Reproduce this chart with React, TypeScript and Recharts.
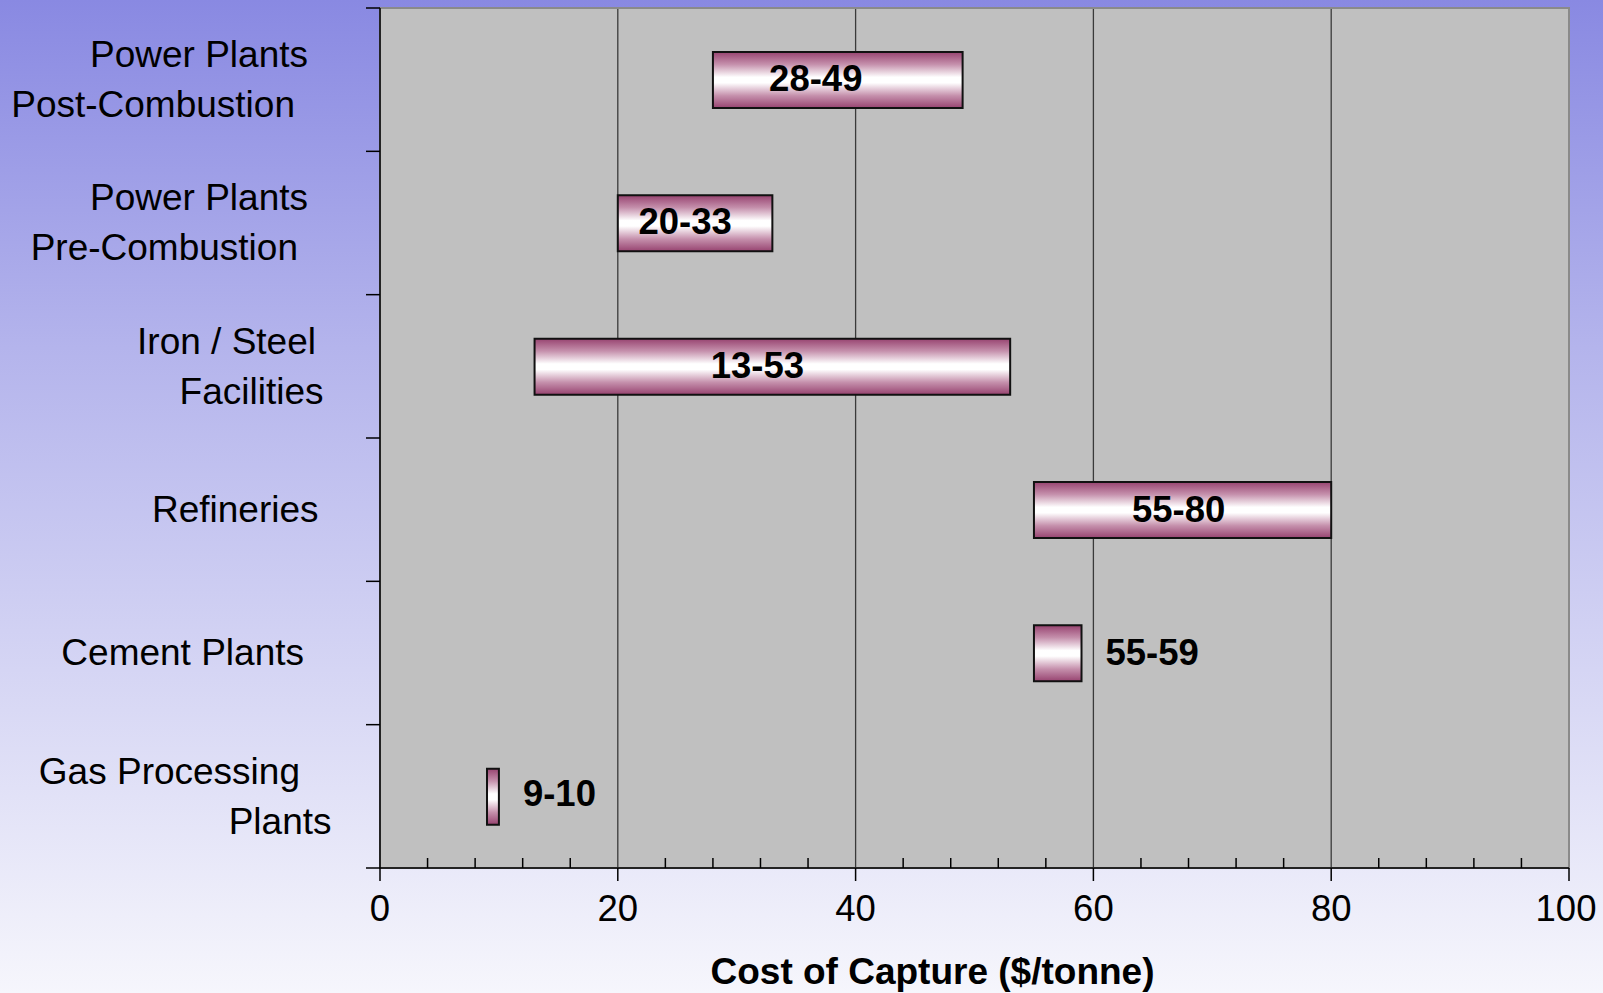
import React from 'react';
import { BarChart, Bar, XAxis, YAxis, CartesianGrid, ReferenceArea, LabelList, Label } from 'recharts';

// ---- data ----
const categories = [
  'Power Plants Post-Combustion',
  'Power Plants Pre-Combustion',
  'Iron / Steel Facilities',
  'Refineries',
  'Cement Plants',
  'Gas Processing Plants',
];
const categoryLines = [
  ['Power Plants', 'Post-Combustion'],
  ['Power Plants', 'Pre-Combustion'],
  ['Iron / Steel', 'Facilities'],
  ['Refineries'],
  ['Cement Plants'],
  ['Gas Processing', 'Plants'],
];
const lowValues = [28, 20, 13, 55, 55, 9];
const highValues = [49, 33, 53, 80, 59, 10];
const majorTicks = [0, 20, 40, 60, 80, 100];
const allTicks = [0, 4, 8, 12, 16, 20, 24, 28, 32, 36, 40, 44, 48, 52, 56, 60, 64, 68, 72, 76, 80, 84, 88, 92, 96, 100];
const gridValues = [20, 40, 60, 80];
const xTitle = 'Cost of Capture ($/tonne)';

// ---- style ----
const W = 1603;
const H = 993;
const M_TOP = 8;
const M_RIGHT = 34;
const Y_W = 380;
const X_H = 125;
const PLOT_LEFT = Y_W;
const PLOT_TOP = M_TOP;
const PLOT_BOTTOM = H - X_H;
const FONT = '"Liberation Sans", Arial, Helvetica, sans-serif';
const labelPlacement = ['inside', 'inside', 'inside', 'inside', 'right', 'right'];
const labelShift = [-22, -10, -15, -4, 24, 24];
const labelLift = [-2, -2, -2, -1, -1, -4];
const lineRight = [[-72, -85], [-72, -82], [-64, -56.5], [-61.5], [-76], [-80, -48.5]];

const data = categories.map((name, i) => ({
  name,
  range: [lowValues[i], highValues[i]],
  label: `${lowValues[i]}-${highValues[i]}`,
}));

const YTick = (props: any) => {
  const { y, payload } = props;
  const idx = categories.indexOf(payload.value);
  const band = (PLOT_BOTTOM - PLOT_TOP) / categories.length;
  const lines = categoryLines[idx] || [];
  const n = lines.length;
  return (
    <g>
      <line x1={PLOT_LEFT - 14} x2={PLOT_LEFT} y1={y - band / 2} y2={y - band / 2} stroke="#000" strokeWidth={1.5} />
      {idx === categories.length - 1 && (
        <line x1={PLOT_LEFT - 14} x2={PLOT_LEFT} y1={y + band / 2} y2={y + band / 2} stroke="#000" strokeWidth={1.5} />
      )}
      {lines.map((t, k) => {
        const yc = y + (k - (n - 1) / 2) * 50 - 0.7;
        return (
          <text key={k} x={PLOT_LEFT + lineRight[idx][k]} y={yc + 13} textAnchor="end" fontFamily={FONT} fontSize={37} fill="#000">
            {t}
          </text>
        );
      })}
    </g>
  );
};

const XTick = (props: any) => {
  const { x, payload } = props;
  const v = payload.value;
  const major = majorTicks.includes(v);
  return (
    <g>
      {major ? (
        <line x1={x} x2={x} y1={PLOT_BOTTOM} y2={PLOT_BOTTOM + 13} stroke="#000" strokeWidth={1.5} />
      ) : (
        <line x1={x} x2={x} y1={PLOT_BOTTOM} y2={PLOT_BOTTOM - 10} stroke="#000" strokeWidth={1.5} />
      )}
      {major && (
        <text x={x - (v === 100 ? 3 : 0)} y={PLOT_BOTTOM + 53} textAnchor="middle" fontFamily={FONT} fontSize={36.5} fill="#000">
          {v}
        </text>
      )}
    </g>
  );
};

const BarLabel = (props: any) => {
  const { x, y, width, height, index } = props;
  const d = data[index];
  if (!d) return null;
  const inside = labelPlacement[index] === 'inside';
  const tx = inside ? x + width / 2 + labelShift[index] : x + width + labelShift[index];
  return (
    <text
      x={tx}
      y={y + height / 2 + 13 + labelLift[index]}
      textAnchor={inside ? 'middle' : 'start'}
      fontFamily={FONT}
      fontSize={36.5}
      fontWeight="bold"
      fill="#000"
    >
      {d.label}
    </text>
  );
};

const XTitle = (props: any) => {
  const vb = props.viewBox || {};
  return (
    <text
      x={vb.x + vb.width / 2 - 42}
      y={vb.y + 116}
      textAnchor="middle"
      fontFamily={FONT}
      fontSize={37}
      fontWeight="bold"
      fill="#000"
    >
      {xTitle}
    </text>
  );
};

export default function App() {
  return (
    <div
      style={{
        position: 'absolute',
        left: 0,
        top: 0,
        width: W,
        height: H,
        background: 'linear-gradient(to bottom, #8989e2 0%, #b4b4ec 35%, #f6f6fc 100%)',
      }}
    >
      <BarChart
        width={W}
        height={H}
        data={data}
        layout="vertical"
        margin={{ top: M_TOP, right: M_RIGHT, bottom: 0, left: 0 }}
        barSize={56}
      >
        <defs>
          <linearGradient id="barGrad" x1="0" y1="0" x2="0" y2="1">
            <stop offset="0%" stopColor="#974370" />
            <stop offset="22%" stopColor="#c590ac" />
            <stop offset="45%" stopColor="#ffffff" />
            <stop offset="55%" stopColor="#ffffff" />
            <stop offset="78%" stopColor="#c590ac" />
            <stop offset="100%" stopColor="#974370" />
          </linearGradient>
        </defs>
        <CartesianGrid
          fill="#c0c0c0"
          horizontal={false}
          vertical={true}
          verticalValues={gridValues}
          stroke="#3a3a3a"
          strokeWidth={1.3}
        />
        <ReferenceArea x1={0} x2={100} fill="none" fillOpacity={0} stroke="#8a8a8a" strokeWidth={2} />
        <XAxis
          type="number"
          domain={[0, 100]}
          ticks={allTicks}
          interval={0}
          height={X_H}
          tickLine={false}
          axisLine={{ stroke: '#000', strokeWidth: 1.5 }}
          tick={<XTick />}
          allowDataOverflow
        >
          <Label content={<XTitle />} />
        </XAxis>
        <YAxis
          type="category"
          dataKey="name"
          width={Y_W}
          interval={0}
          tickLine={false}
          axisLine={{ stroke: '#000', strokeWidth: 1.5 }}
          tick={<YTick />}
        />
        <Bar dataKey="range" fill="url(#barGrad)" stroke="#111" strokeWidth={2} isAnimationActive={false}>
          <LabelList dataKey="label" content={<BarLabel />} />
        </Bar>
      </BarChart>
    </div>
  );
}
